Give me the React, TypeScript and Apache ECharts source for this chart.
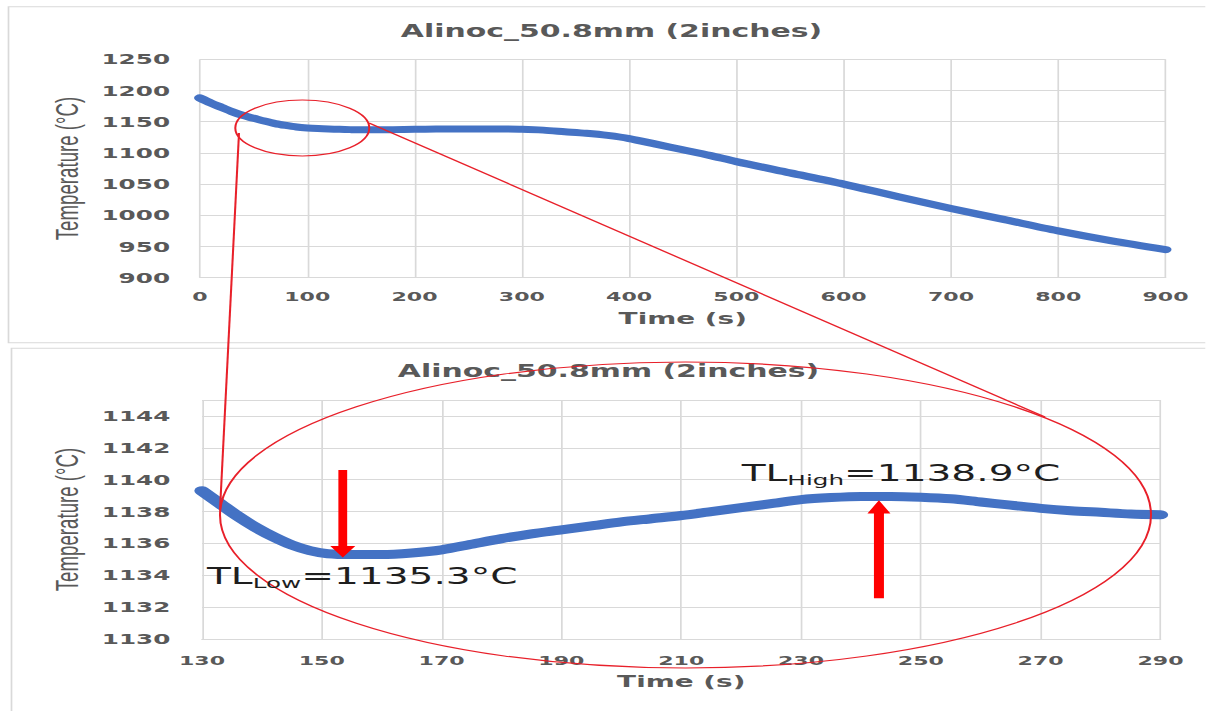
import React, { useEffect, useRef } from "react";
import * as echarts from "echarts";

// The reference picture is stretched horizontally; the chart is drawn at its
// natural width and stretched with a CSS transform to the same look.
const S = 1.7;
const PAGE_W = 1206;
const PAGE_H = 711;
const W = PAGE_W / S;
const px = (X: number) => X / S;

const chartTitle = "Alinoc_50.8mm (2inches)";
const xName = "Time (s)";
const yName = "Temperature (°C)";

// Overview chart (0–900 s)
const overviewXTicks = [0, 100, 200, 300, 400, 500, 600, 700, 800, 900];
const overviewYTicks = [900, 950, 1000, 1050, 1100, 1150, 1200, 1250];
const overviewTime = [
  0, 10, 20, 30, 40, 50, 60, 70, 80, 90, 100, 110, 120, 130, 140, 150, 160, 180,
  200, 220, 240, 260, 280, 300, 320, 340, 360, 380, 400, 425, 450, 475, 500, 550,
  600, 650, 700, 750, 800, 850, 900,
];
const overviewTemp = [
  1188, 1180, 1173, 1166, 1160, 1155.5, 1151, 1147, 1144, 1141.5, 1140, 1139,
  1138.3, 1137.8, 1137.3, 1137, 1137, 1137.3, 1137.8, 1138.2, 1138.5, 1138.5,
  1138.3, 1137.8, 1136.5, 1134, 1131.5, 1128, 1123, 1114, 1105, 1096, 1086,
  1068, 1050, 1030, 1011, 993, 975, 959, 945,
];

// Zoomed chart (130–290 s)
const zoomXTicks = [130, 150, 170, 190, 210, 230, 250, 270, 290];
const zoomYTicks = [1130, 1132, 1134, 1136, 1138, 1140, 1142, 1144];
const zoomYMax = 1145;
const zoomTime = [
  130, 133, 136, 139, 142, 145, 148, 151, 155, 160, 165, 170, 175, 180, 185, 190,
  195, 200, 205, 210, 215, 220, 225, 230, 235, 240, 245, 250, 255, 260, 265, 270,
  275, 280, 285, 290,
];
const zoomTemp = [
  1139.3, 1138.5, 1137.7, 1137.0, 1136.4, 1135.9, 1135.55, 1135.35, 1135.3,
  1135.3, 1135.4, 1135.6, 1135.95, 1136.3, 1136.6, 1136.85, 1137.1, 1137.35,
  1137.55, 1137.75, 1138.0, 1138.25, 1138.5, 1138.75, 1138.88, 1138.95, 1138.95,
  1138.9, 1138.8, 1138.6, 1138.4, 1138.2, 1138.05, 1137.95, 1137.85, 1137.8,
];

const tlLow = { time: 153.5, temp: 1135.3, label: "=1135.3°C", sub: "Low" };
const tlHigh = { time: 243, temp: 1138.9, label: "=1138.9°C", sub: "High" };

const GRAY = "#595959";
const GRID = "#D9D9D9";
const BLUE = "#4472C4";
const RED = "#E8202A";
const ARROW = "#FF0000";

const tickFont = { fontFamily: "DejaVu Sans", fontWeight: "bold" as const, color: GRAY };
const plain = (v: number) => String(v);

function xAxisOf(grid: number, ticks: number[], margin: number, nameGap: number) {
  return {
    type: "value",
    gridIndex: grid,
    min: ticks[0],
    max: ticks[ticks.length - 1],
    interval: ticks[1] - ticks[0],
    axisLine: { show: true, lineStyle: { color: GRID, width: 1 } },
    axisTick: { show: false },
    splitLine: { show: true, lineStyle: { color: GRID, width: 1 } },
    axisLabel: { ...tickFont, fontSize: 13, margin, formatter: plain },
    name: xName,
    nameLocation: "middle",
    nameGap,
    nameTextStyle: { ...tickFont, fontSize: 16.4 },
  };
}

function yAxisOf(grid: number, ticks: number[], max: number, margin: number) {
  return {
    type: "value",
    gridIndex: grid,
    min: ticks[0],
    max,
    interval: ticks[1] - ticks[0],
    axisLine: { show: false },
    axisTick: { show: false },
    splitLine: { show: true, lineStyle: { color: GRID, width: 1 } },
    axisLabel: {
      ...tickFont,
      fontSize: 14.5,
      margin,
      formatter: plain,
      showMaxLabel: max === ticks[ticks.length - 1],
    },
    name: yName,
    nameLocation: "middle",
    nameRotate: 90,
    nameGap: 61,
    nameTextStyle: { fontFamily: "Liberation Sans", fontSize: 18.7, color: GRAY },
  };
}

function arrow(x: number, tip: number, tail: number, sw: number, hw: number, hl: number) {
  const d = tail > tip ? 1 : -1;
  const base = tip + d * hl;
  return {
    type: "polygon",
    z: 100,
    shape: {
      points: [
        [x - sw, tail],
        [x + sw, tail],
        [x + sw, base],
        [x + hw, base],
        [x, tip],
        [x - hw, base],
        [x - sw, base],
      ],
    },
    style: { fill: ARROW, stroke: "none" },
  };
}

function tlText(x: number, y: number, sub: string, label: string) {
  return {
    type: "text",
    z: 100,
    x,
    y,
    style: {
      text: `{a|TL}{b|${sub}}{a|${label}}`,
      align: "left",
      verticalAlign: "top",
      rich: {
        a: { fontFamily: "DejaVu Sans", fontSize: 23, lineHeight: 28, fill: "#1E1E1E" },
        b: { fontFamily: "DejaVu Sans", fontSize: 14.5, lineHeight: 16, verticalAlign: "bottom", fill: "#1E1E1E" },
      },
    },
  };
}

export default function App() {
  const ref = useRef<HTMLDivElement>(null);
  useEffect(() => {
    const el = ref.current;
    if (!el) return;
    const chart = echarts.init(el, undefined, { renderer: "svg", width: W, height: PAGE_H });
    chart.setOption({
      animation: false,
      backgroundColor: "#FFFFFF",
      title: [
        {
          text: chartTitle,
          left: px(603),
          top: 17,
          textAlign: "center",
          textStyle: { fontFamily: "DejaVu Sans", fontWeight: "bold", fontSize: 17.6, color: GRAY },
        },
        {
          text: chartTitle,
          left: px(600),
          top: 357,
          textAlign: "center",
          textStyle: { fontFamily: "DejaVu Sans", fontWeight: "bold", fontSize: 17.6, color: GRAY },
        },
      ],
      grid: [
        { left: px(200), top: 59.3, width: px(1165.5 - 200), height: 218.4 },
        { left: px(202), top: 400, width: px(1160.5 - 202), height: 239 },
      ],
      xAxis: [xAxisOf(0, overviewXTicks, 12.5, 33), xAxisOf(1, zoomXTicks, 14.5, 34)],
      yAxis: [
        yAxisOf(0, overviewYTicks, overviewYTicks[overviewYTicks.length - 1], 17.6),
        yAxisOf(1, zoomYTicks, zoomYMax, 18.6),
      ],
      series: [
        {
          type: "line",
          xAxisIndex: 0,
          yAxisIndex: 0,
          data: overviewTime.map((t, i) => [t, overviewTemp[i]]),
          showSymbol: false,
          smooth: 0.3,
          clip: false,
          lineStyle: { color: BLUE, width: 7, cap: "round", join: "round" },
        },
        {
          type: "line",
          xAxisIndex: 1,
          yAxisIndex: 1,
          data: zoomTime.map((t, i) => [t, zoomTemp[i]]),
          showSymbol: false,
          smooth: 0.3,
          clip: false,
          lineStyle: { color: BLUE, width: 9, cap: "round", join: "round" },
        },
      ],
    });

    const low = chart.convertToPixel({ gridIndex: 1 }, [tlLow.time, tlLow.temp]) as number[];
    const high = chart.convertToPixel({ gridIndex: 1 }, [tlHigh.time, tlHigh.temp]) as number[];

    chart.setOption({
      graphic: [
        {
          type: "rect",
          z: 1,
          shape: { x: px(8.5), y: 6.7, width: px(1300), height: 336 },
          style: { fill: "none", stroke: GRID, lineWidth: 1 },
        },
        {
          type: "rect",
          z: 1,
          shape: { x: px(11.5), y: 348.3, width: px(1300), height: 400 },
          style: { fill: "none", stroke: GRID, lineWidth: 1 },
        },
        {
          type: "ellipse",
          z: 100,
          shape: { cx: px(302.3), cy: 128, rx: px(67), ry: 28 },
          style: { fill: "none", stroke: RED, lineWidth: 1.2 },
        },
        {
          type: "ellipse",
          z: 100,
          shape: { cx: px(685.5), cy: 515, rx: px(465.5), ry: 153 },
          style: { fill: "none", stroke: RED, lineWidth: 1.2 },
        },
        {
          type: "line",
          z: 100,
          shape: { x1: px(239), y1: 133, x2: px(220), y2: 510 },
          style: { stroke: RED, lineWidth: 1.2 },
        },
        {
          type: "line",
          z: 100,
          shape: { x1: px(369), y1: 123, x2: px(1045), y2: 417 },
          style: { stroke: RED, lineWidth: 1.2 },
        },
        arrow(low[0], low[1] + 3, 470, px(4.4), px(12.5), 11.6),
        arrow(high[0], high[1] + 3, 598.3, px(5), px(11.5), 13.3),
        tlText(px(207), 562.3, tlLow.sub, tlLow.label),
        tlText(px(741.7), 459.3, tlHigh.sub, tlHigh.label),
      ],
    });

    return () => chart.dispose();
  }, []);

  return (
    <div
      ref={ref}
      style={{
        position: "absolute",
        left: 0,
        top: 0,
        width: W,
        height: PAGE_H,
        transform: `scaleX(${S})`,
        transformOrigin: "0 0",
        background: "#FFFFFF",
      }}
    />
  );
}
